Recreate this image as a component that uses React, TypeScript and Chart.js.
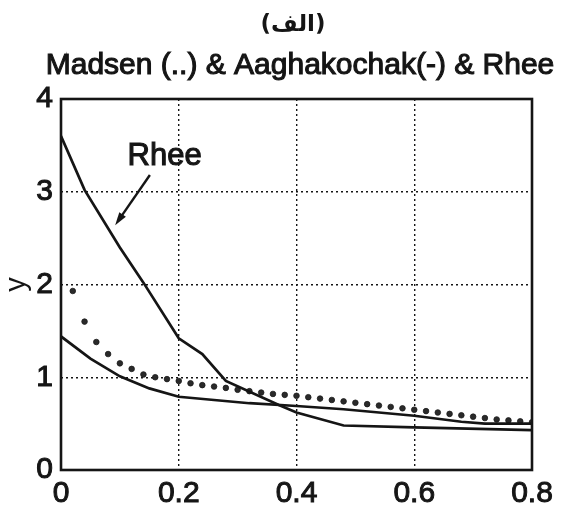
import React, { useEffect, useRef } from 'react';
import { Chart, registerables } from 'chart.js';

Chart.register(...registerables);

// ---- text ----
const panelLabel = '(الف)';
const titleText = 'Madsen (..) & Aaghakochak(-) & Rhee';
const yAxisLabel = 'y';
const rheeLabel = 'Rhee';

// ---- ticks ----
const xTicks = [0, 0.2, 0.4, 0.6, 0.8];
const yTicks = [0, 1, 2, 3, 4];

// ---- Rhee (upper solid line) ----
const rheeX = [0, 0.04, 0.1, 0.14, 0.2, 0.24, 0.28, 0.37, 0.4, 0.48, 0.6, 0.8];
const rheeY = [3.6, 3.02, 2.4, 2.02, 1.42, 1.25, 0.96, 0.7, 0.62, 0.48, 0.46, 0.43];

// ---- Aaghakochak (lower solid line) ----
const aaghX = [0, 0.05, 0.1, 0.15, 0.2, 0.32, 0.4, 0.48, 0.6, 0.68, 0.72, 0.8];
const aaghY = [1.44, 1.2, 1.01, 0.88, 0.79, 0.72, 0.69, 0.655, 0.585, 0.52, 0.5, 0.5];

// ---- Madsen (dotted) ----
const madsenX = [
  0.02, 0.04, 0.06, 0.08, 0.1, 0.12, 0.14, 0.16, 0.18, 0.2,
  0.22, 0.24, 0.26, 0.28, 0.3, 0.32, 0.34, 0.36, 0.38, 0.4,
  0.42, 0.44, 0.46, 0.48, 0.5, 0.52, 0.54, 0.56, 0.58, 0.6,
  0.62, 0.64, 0.66, 0.68, 0.7, 0.72, 0.74, 0.76, 0.78, 0.8,
];
const madsenY = [
  1.93, 1.6, 1.38, 1.25, 1.15, 1.09, 1.03, 1.0, 0.98, 0.96,
  0.935, 0.915, 0.9, 0.885, 0.865, 0.85, 0.835, 0.82, 0.81, 0.8,
  0.785, 0.77, 0.755, 0.74, 0.725, 0.71, 0.695, 0.68, 0.665, 0.65,
  0.635, 0.62, 0.605, 0.59, 0.575, 0.56, 0.545, 0.535, 0.525, 0.515,
];

// annotation anchor (data coordinates)
const rheeLabelPos = [0.113, 3.29];
const arrowFrom = [0.151, 3.18];
const arrowTo = [0.092, 2.64];

const INK = '#151515';
const SANS = '"Liberation Sans", Arial, sans-serif';

const zip = (xs: number[], ys: number[]) => xs.map((x, i) => ({ x, y: ys[i] }));

const annotPlugin = {
  id: 'annot',
  afterDraw(chart: any) {
    const { ctx, chartArea: a, scales } = chart;
    const sx = scales.x, sy = scales.y;
    ctx.save();
    // box frame
    ctx.strokeStyle = INK;
    ctx.lineWidth = 2.6;
    ctx.setLineDash([]);
    ctx.strokeRect(a.left, a.top, a.right - a.left, a.bottom - a.top);

    // titles
    ctx.fillStyle = INK;
    ctx.strokeStyle = INK;
    ctx.textAlign = 'center';
    ctx.textBaseline = 'alphabetic';
    ctx.font = 'bold 23px "DejaVu Sans", sans-serif';
    ctx.fillText(panelLabel, 293, 31);
    ctx.font = '30px ' + SANS;
    ctx.lineWidth = 1.1;
    ctx.fillText(titleText, 300, 74);
    ctx.strokeText(titleText, 300, 74);

    // Rhee label
    ctx.textAlign = 'left';
    ctx.font = '31px ' + SANS;
    const lx = sx.getPixelForValue(rheeLabelPos[0]);
    const ly = sy.getPixelForValue(rheeLabelPos[1]);
    ctx.fillText(rheeLabel, lx, ly);
    ctx.strokeText(rheeLabel, lx, ly);

    // arrow
    const x1 = sx.getPixelForValue(arrowFrom[0]);
    const y1 = sy.getPixelForValue(arrowFrom[1]);
    const x2 = sx.getPixelForValue(arrowTo[0]);
    const y2 = sy.getPixelForValue(arrowTo[1]);
    const ang = Math.atan2(y2 - y1, x2 - x1);
    const hl = 13, hw = 4;
    ctx.lineWidth = 2.4;
    ctx.beginPath();
    ctx.moveTo(x1, y1);
    ctx.lineTo(x2 - Math.cos(ang) * hl * 0.8, y2 - Math.sin(ang) * hl * 0.8);
    ctx.stroke();
    ctx.beginPath();
    ctx.moveTo(x2, y2);
    ctx.lineTo(x2 - Math.cos(ang) * hl - Math.sin(ang) * hw, y2 - Math.sin(ang) * hl + Math.cos(ang) * hw);
    ctx.lineTo(x2 - Math.cos(ang) * hl + Math.sin(ang) * hw, y2 - Math.sin(ang) * hl - Math.cos(ang) * hw);
    ctx.closePath();
    ctx.fill();
    ctx.restore();
  },
};

export default function App() {
  const ref = useRef<HTMLCanvasElement | null>(null);
  useEffect(() => {
    document.body.style.margin = '0';
    const canvas = ref.current!;
    const chart = new Chart(canvas, {
      type: 'scatter',
      data: {
        datasets: [
          {
            label: 'Rhee',
            data: zip(rheeX, rheeY),
            showLine: true,
            borderColor: INK,
            borderWidth: 2.7,
            pointRadius: 0,
            fill: false,
          },
          {
            label: 'Aaghakochak',
            data: zip(aaghX, aaghY),
            showLine: true,
            borderColor: INK,
            borderWidth: 2.7,
            pointRadius: 0,
            fill: false,
          },
          {
            label: 'Madsen',
            data: zip(madsenX, madsenY),
            showLine: false,
            pointRadius: 2.8,
            pointBackgroundColor: '#2a2a2a',
            pointBorderColor: '#1a1a1a',
            pointBorderWidth: 0.8,
          },
        ],
      },
      options: {
        responsive: false,
        animation: false,
        devicePixelRatio: 1,
        layout: { padding: { top: 99, right: 34, left: 0, bottom: 0 } },
        plugins: {
          legend: { display: false },
          title: { display: false },
          tooltip: { enabled: false },
        },
        scales: {
          x: {
            type: 'linear',
            min: 0,
            max: 0.8,
            afterBuildTicks: (s: any) => {
              s.ticks = xTicks.map((v) => ({ value: v }));
            },
            afterFit: (s: any) => {
              s.height = 47;
            },
            ticks: {
              color: INK,
              font: { family: SANS, size: 30 },
              textStrokeColor: INK,
              textStrokeWidth: 1,
              padding: 6,
              maxRotation: 0,
              autoSkip: false,
              callback: (v: any) => String(v),
            },
            grid: {
              color: INK,
              lineWidth: 1.4,
              drawTicks: false,
            },
            border: { display: false, dash: [2, 3] },
          },
          y: {
            type: 'linear',
            min: 0,
            max: 4,
            afterBuildTicks: (s: any) => {
              s.ticks = yTicks.map((v) => ({ value: v }));
            },
            afterFit: (s: any) => {
              s.width = 61;
            },
            ticks: {
              color: INK,
              font: { family: SANS, size: 30 },
              textStrokeColor: INK,
              textStrokeWidth: 1,
              padding: 8,
              autoSkip: false,
              callback: (v: any) => String(v),
            },
            grid: {
              color: INK,
              lineWidth: 1.4,
              drawTicks: false,
            },
            border: { display: false, dash: [2, 3] },
            title: {
              display: true,
              text: yAxisLabel,
              color: INK,
              font: { family: SANS, size: 29 },
              padding: { top: 0, bottom: 0 },
            },
          },
        },
      },
      plugins: [annotPlugin],
    });
    return () => chart.destroy();
  }, []);
  return (
    <canvas
      ref={ref}
      width={566}
      height={517}
      style={{ display: 'block', width: 566, height: 517, background: '#fff' }}
    />
  );
}
